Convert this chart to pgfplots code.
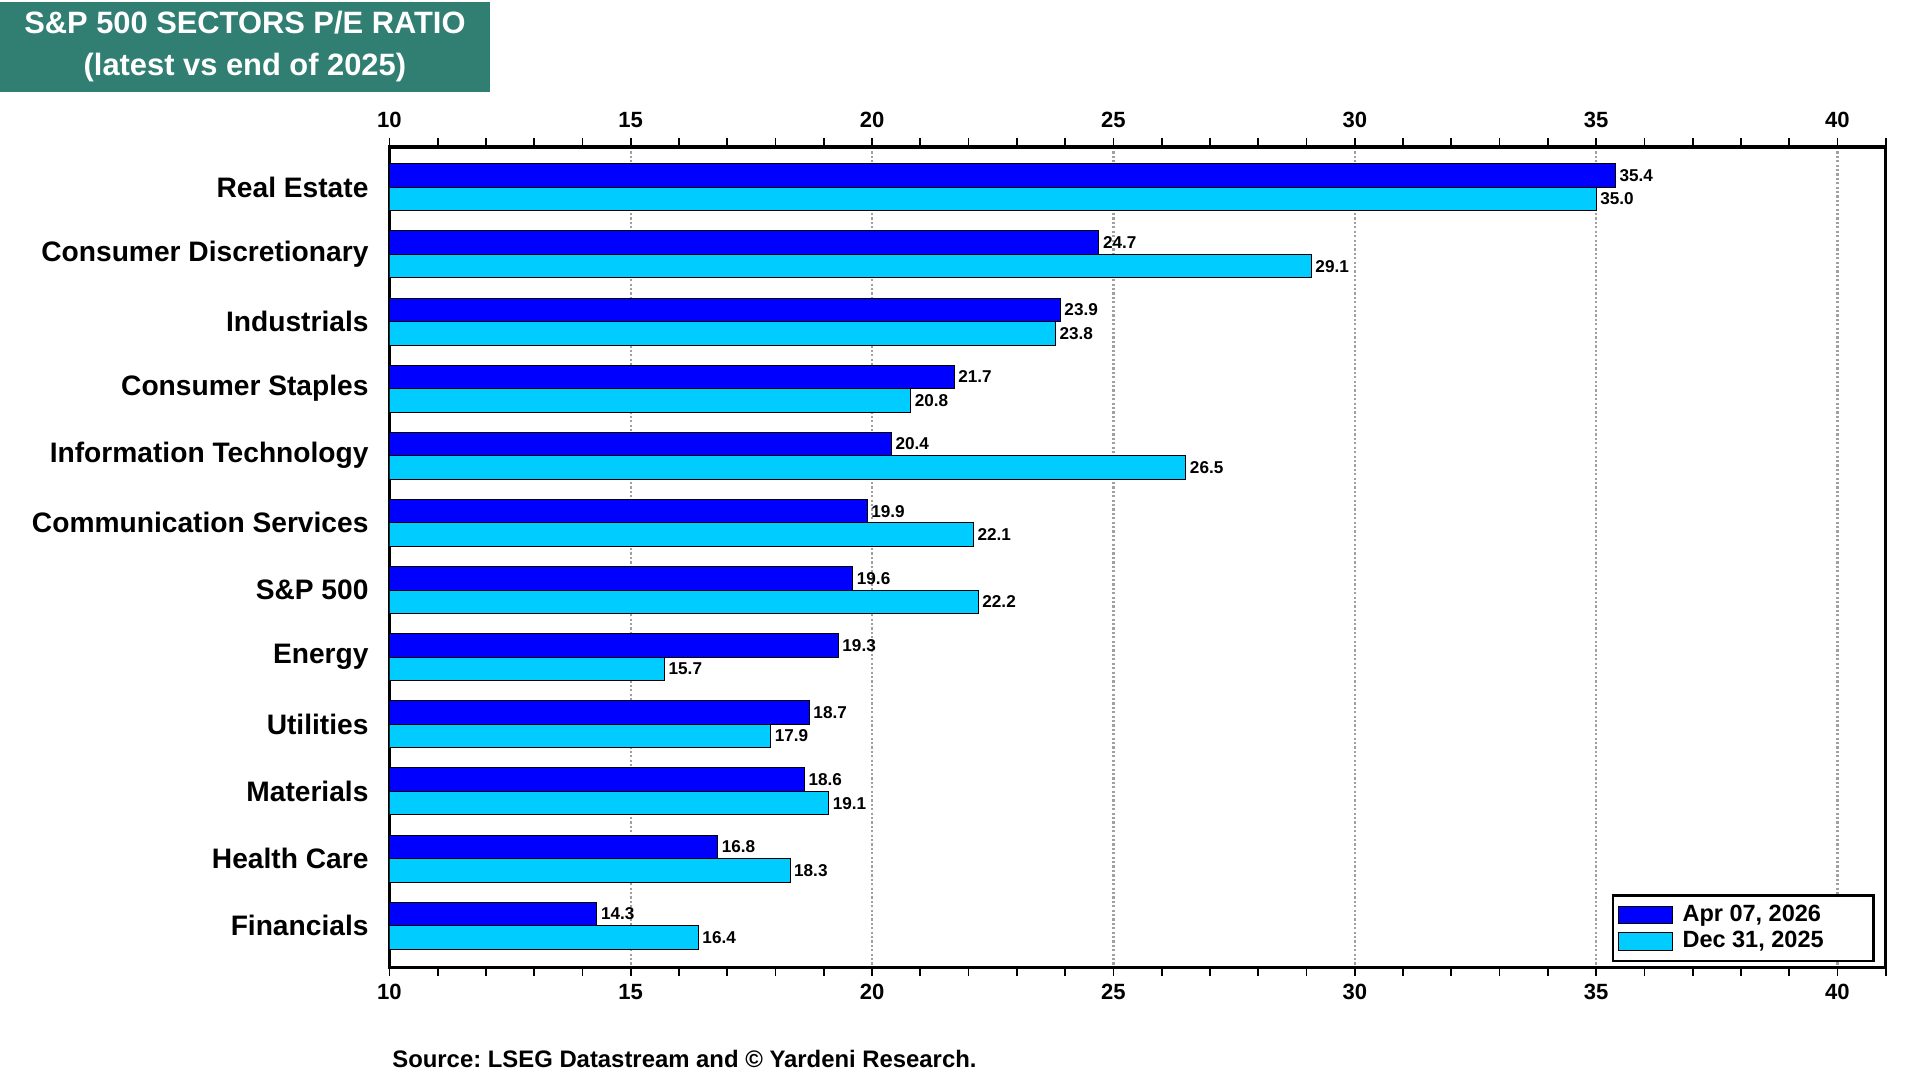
\documentclass[border=0pt]{standalone}
\usepackage{fontspec}
\setmainfont{Liberation Sans}
\usepackage{pgfplots}
\pgfplotsset{compat=1.18}
\definecolor{darkb}{HTML}{0000FF}
\definecolor{lightb}{HTML}{00CCFF}
\definecolor{titleteal}{HTML}{307F72}
\definecolor{gridgray}{HTML}{A0A0A0}
\frenchspacing
\begin{document}
\begin{tikzpicture}
\useasboundingbox (0,0) rectangle (784pt,-441pt);
\fill[titleteal] (0,-1pt) rectangle (200pt,-37.5pt);
\node[text=white, font=\bfseries\fontsize{12.6}{17.5}\selectfont, align=center] at (100pt,-19pt) {S\&P 500 SECTORS P/E RATIO\\(latest vs end of 2025)};
\begin{axis}[
  at={(159pt,-60pt)}, anchor=north west,
  scale only axis, width=611pt, height=335pt,
  xmin=10, xmax=41, ymin=-0.6, ymax=11.62, y dir=reverse,
  /pgf/number format/assume math mode=true,
  xtick={10,15,...,40}, minor xtick={10,...,41},
  xtick pos=both, xticklabel pos=lower,
  tick align=outside,
  major tick length=3.5pt, minor tick length=3.5pt,
  every tick/.style={black, line width=0.7pt},
  xticklabel style={font=\bfseries\fontsize{9}{10}\selectfont},
  ytick={0,...,11},
  yticklabels={Real Estate, Consumer Discretionary, Industrials, Consumer Staples, Information Technology, Communication Services, S\&P 500, Energy, Utilities, Materials, Health Care, Financials},
  ytick style={draw=none},
  yticklabel style={font=\bfseries\fontsize{11.5}{13}\selectfont, xshift=-1.5pt},
  axis line style={line width=1.3pt},
  xmajorgrids, major grid style={gridgray, line width=0.9pt, dash pattern=on 0.9pt off 0.9pt},
  xbar, bar width=0.35,
  nodes near coords, nodes near coords align={horizontal},
  every node near coord/.append style={font=\bfseries\fontsize{7}{8}\selectfont, inner sep=1.5pt, black},
  legend style={at={(0.9926,0.006)}, anchor=south east, draw=black, line width=0.9pt, font=\bfseries\fontsize{9.6}{10.5}\selectfont, inner sep=2pt, row sep=-1.5pt},
  legend cell align=left,
  legend image code/.code={\draw[#1, line width=0.4pt] (0pt,-3.5pt) rectangle (22pt,3.5pt);},
]
\addplot[fill=darkb, draw=black, line width=0.4pt, bar shift=-0.175, point meta=x,
  nodes near coords={\pgfmathprintnumber[fixed,fixed zerofill,precision=1]{\pgfplotspointmeta}}] coordinates {
(35.4,0) (24.7,1) (23.9,2) (21.7,3) (20.4,4) (19.9,5) (19.6,6) (19.3,7) (18.7,8) (18.6,9) (16.8,10) (14.3,11)};
\addplot[fill=lightb, draw=black, line width=0.4pt, bar shift=0.175, point meta=x,
  nodes near coords={\pgfmathprintnumber[fixed,fixed zerofill,precision=1]{\pgfplotspointmeta}}] coordinates {
(35.0,0) (29.1,1) (23.8,2) (20.8,3) (26.5,4) (22.1,5) (22.2,6) (15.7,7) (17.9,8) (19.1,9) (18.3,10) (16.4,11)};
\legend{{\makebox[76pt][l]{\hspace*{2pt}Apr 07, 2026}},{\makebox[76pt][l]{\hspace*{2pt}Dec 31, 2025}}}
\end{axis}
\begin{axis}[
  at={(159pt,-60pt)}, anchor=north west,
  scale only axis, width=611pt, height=335pt,
  xmin=10, xmax=41, ymin=-0.6, ymax=11.62,
  /pgf/number format/assume math mode=true,
  xtick={10,15,...,40}, xtick pos=upper, xticklabel pos=upper,
  tick align=outside, major tick length=3.5pt,
  every tick/.style={black, line width=0.7pt},
  xticklabel style={font=\bfseries\fontsize{9}{10}\selectfont, yshift=1pt},
  ytick=\empty, axis line style={draw=none},
]
\end{axis}
\node[anchor=west, inner sep=0pt, font=\bfseries\fontsize{9.75}{12}\selectfont] at (160pt,-432.5pt) {Source: LSEG Datastream and © Yardeni Research.};
\end{tikzpicture}
\end{document}
